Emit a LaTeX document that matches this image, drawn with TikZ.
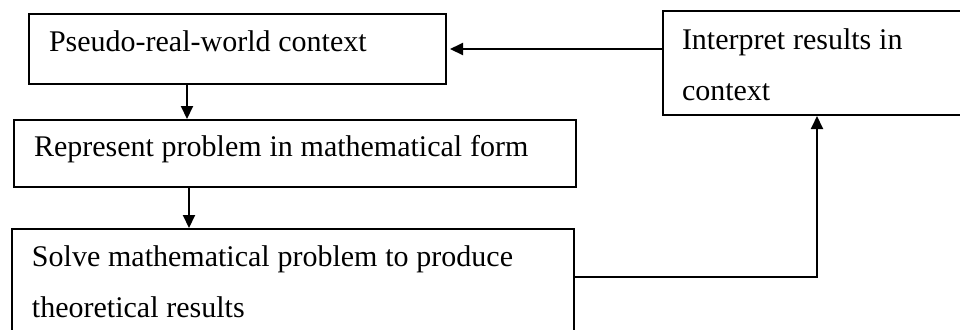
\documentclass[tikz,border=0pt]{standalone}
\usepackage{fontspec}
\setmainfont{Liberation Serif}
\usetikzlibrary{arrows.meta}

\begin{document}
\begin{tikzpicture}[->,>={Triangle[length=6.5pt,width=6pt]},x=0.5pt,y=-0.5pt,
              line width=1pt,main node/.style={draw,rectangle,anchor=north west,
              align=left,inner ysep=0pt,inner xsep=10pt,
              font=\fontsize{15}{25.5}\selectfont,
              execute at begin node={\spaceskip=0.26em\relax}}]

            \useasboundingbox (0,0) rectangle (960,329);
            \clip (0,0) rectangle (960,329);

            \node[main node,text width=188.5pt,text height=18.5pt,text depth=16.5pt]
              (P) at (28,13) {Pseudo-real-world context};
            \node[main node,text width=261pt,text height=18pt,text depth=15.5pt]
              (R) at (13,119) {Represent problem in mathematical form};
            \node[main node,text width=261pt,text height=18.5pt,text depth=42.5pt]
              (S) at (11,228) {Solve mathematical problem to produce\\theoretical results};
            \node[main node,inner xsep=9.5pt,text width=135pt,text height=19pt,text depth=33pt]
              (I) at (662,10) {Interpret results in\\context};

            \draw ([xshift=-25.25pt]P.south) -- ([xshift=-25.25pt]P.south |- R.north);
            \draw ([xshift=-53pt]R.south) -- ([xshift=-53pt]R.south |- S.north);
            \draw ([yshift=-24.5pt]S.north east) -| (I.south);
            \draw[shorten >=1.5pt] (I.west |- P.east) -- (P.east);

          \end{tikzpicture}
\end{document}
